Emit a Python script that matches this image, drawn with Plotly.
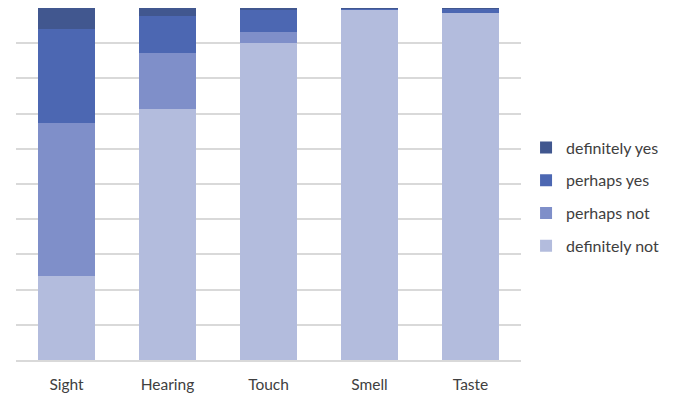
import plotly.graph_objects as go

# Senses and share of answers per category (percent)
senses = ["Sight", "Hearing", "Touch", "Smell", "Taste"]
definitely_not = [23.9, 71.3, 90.0, 99.6, 98.6]
perhaps_not = [43.4, 15.9, 3.2, 0.0, 0.0]
perhaps_yes = [26.6, 10.5, 6.2, 0.3, 1.2]
definitely_yes = [6.1, 2.3, 0.6, 0.1, 0.2]

series = [
    ("definitely not", definitely_not, "#B3BCDD", 4),
    ("perhaps not", perhaps_not, "#7F8FC9", 3),
    ("perhaps yes", perhaps_yes, "#4C67B2", 2),
    ("definitely yes", definitely_yes, "#41578F", 1),
]

fig = go.Figure()
for name, vals, color, rank in series:
    fig.add_trace(go.Bar(
        x=senses, y=vals, name=name, marker_color=color,
        marker_line_width=0, legendgroup=name, legendrank=rank,
    ))

font = "Lato, Carlito, 'Liberation Sans', sans-serif"
fig.update_layout(
    width=674, height=395,
    margin=dict(l=16, r=153, t=8, b=35),
    barmode="stack",
    bargap=0.44,
    plot_bgcolor="white",
    paper_bgcolor="white",
    font=dict(family=font, size=15.5, color="#404040"),
    legend=dict(
        x=1.01, xanchor="left", y=0.463, yanchor="middle",
        traceorder="grouped", tracegroupgap=9,
        font=dict(size=16, color="#404040"),
        bgcolor="rgba(0,0,0,0)",
    ),
    xaxis=dict(
        showgrid=False, showline=True, linecolor="#D9D9D9", linewidth=1.5,
        ticks="", ticklabelstandoff=10, automargin=False,
        tickfont=dict(size=15.5, color="#404040"),
    ),
    yaxis=dict(
        range=[0, 100], dtick=10, showgrid=True, gridcolor="#D9D9D9",
        gridwidth=1.5, showticklabels=False, zeroline=False, ticks="",
    ),
)

fig.write_html("out.html")
